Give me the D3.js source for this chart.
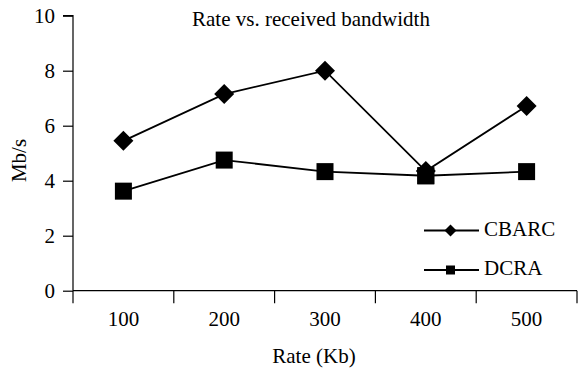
<!DOCTYPE html>
<html>
<head>
<meta charset="utf-8">
<script src="https://cdn.jsdelivr.net/npm/d3@7"></script>
<style>
  body { margin: 0; background: #fff; }
</style>
</head>
<body>
<div id="chart"></div>
<script>
// data
const rates = ["100", "200", "300", "400", "500"];
const cbarc = [5.45, 7.15, 8.0, 4.35, 6.72];
const dcra = [3.62, 4.75, 4.33, 4.18, 4.33];
const y_ticks = [0, 2, 4, 6, 8, 10];

const width = 579, height = 372;
const plot_left = 73, plot_right = 577, plot_top = 15.7, plot_bottom = 290.7;
const font = "'Liberation Serif', 'Times New Roman', serif";

const svg = d3.select("#chart")
              .append("svg")
              .attr("width", width)
              .attr("height", height);

const x = d3.scaleBand().domain(rates).range([plot_left, plot_right]);
const y = d3.scaleLinear().domain([0, 10]).range([plot_bottom, plot_top]);

// y axis
const y_axis = svg.append("g")
                  .attr("transform", `translate(${plot_left},0)`)
                  .call(d3.axisLeft(y).tickValues(y_ticks).tickSize(10).tickPadding(8));
y_axis.selectAll("text")
      .attr("font-size", "21px")
      .attr("font-family", font)
      .attr("fill", "#000")
      .attr("dy", "0.34em");
y_axis.select(".domain").attr("d", `M${-10},${plot_top}H0V${plot_bottom}`);

// x axis, ticks between categories
const x_axis = svg.append("g")
                  .attr("transform", `translate(0,${plot_bottom})`)
                  .call(d3.axisBottom(x).tickSize(0).tickPadding(20.5));
x_axis.selectAll("text")
      .attr("font-size", "21px")
      .attr("font-family", font)
      .attr("fill", "#000");
x_axis.select(".domain").attr("d", `M${plot_left},0H${plot_right}`);
x_axis.selectAll(".sep")
      .data([rates[0]].concat(rates))
      .enter()
      .append("line")
      .attr("class", "sep")
      .attr("x1", (d, i) => i === 0 ? plot_left : x(d) + x.bandwidth())
      .attr("x2", (d, i) => i === 0 ? plot_left : x(d) + x.bandwidth())
      .attr("y1", 0)
      .attr("y2", 12.5)
      .attr("stroke", "#000");
svg.selectAll(".domain, .tick line, .sep").attr("stroke", "#000").attr("stroke-width", 1.2);

const cx = d => x(d) + x.bandwidth() / 2;
const line = d3.line().x((d, i) => cx(rates[i])).y(d => y(d));

const diamond = s => `M0,${-s}L${s},0L0,${s}L${-s},0Z`;

// DCRA first, CBARC on top
[dcra, cbarc].forEach(series => {
    svg.append("path")
       .attr("d", line(series))
       .attr("fill", "none")
       .attr("stroke", "#000")
       .attr("stroke-width", 1.8);
});

svg.selectAll(".sq")
   .data(dcra)
   .enter()
   .append("rect")
   .attr("x", (d, i) => cx(rates[i]) - 8.5)
   .attr("y", d => y(d) - 8.5)
   .attr("width", 17)
   .attr("height", 17)
   .attr("fill", "#000");

svg.selectAll(".dm")
   .data(cbarc)
   .enter()
   .append("path")
   .attr("d", diamond(10))
   .attr("transform", (d, i) => `translate(${cx(rates[i])},${y(d)})`)
   .attr("fill", "#000");

// redraw DCRA square at 400 over diamond (as in picture)
svg.append("rect")
   .attr("x", cx(rates[3]) - 8.5)
   .attr("y", y(dcra[3]) - 8.5)
   .attr("width", 17)
   .attr("height", 17)
   .attr("fill", "#000");

// title + labels
svg.append("text")
   .attr("x", 311)
   .attr("y", 26)
   .attr("text-anchor", "middle")
   .attr("font-family", font)
   .attr("font-size", "21px")
   .text("Rate vs. received bandwidth");

svg.append("text")
   .attr("transform", "translate(25.5,160.5) rotate(-90)")
   .attr("text-anchor", "middle")
   .attr("font-family", font)
   .attr("font-size", "21px")
   .text("Mb/s");

svg.append("text")
   .attr("x", 314)
   .attr("y", 363)
   .attr("text-anchor", "middle")
   .attr("font-family", font)
   .attr("font-size", "21px")
   .text("Rate (Kb)");

// legend
const legend = [["CBARC", "diamond", 230.5], ["DCRA", "square", 270]];
legend.forEach(([name, shape, ly]) => {
    svg.append("line")
       .attr("x1", 424).attr("x2", 479)
       .attr("y1", ly).attr("y2", ly)
       .attr("stroke", "#000")
       .attr("stroke-width", 1.8);
    if (shape === "diamond") {
        svg.append("path")
           .attr("d", diamond(6))
           .attr("transform", `translate(450.5,${ly})`)
           .attr("fill", "#000");
    } else {
        svg.append("rect")
           .attr("x", 450.5 - 4.5).attr("y", ly - 4.5)
           .attr("width", 9).attr("height", 9)
           .attr("fill", "#000");
    }
    svg.append("text")
       .attr("x", 484)
       .attr("y", ly + 5)
       .attr("font-family", font)
       .attr("font-size", "21px")
       .text(name);
});
</script>
</body>
</html>
